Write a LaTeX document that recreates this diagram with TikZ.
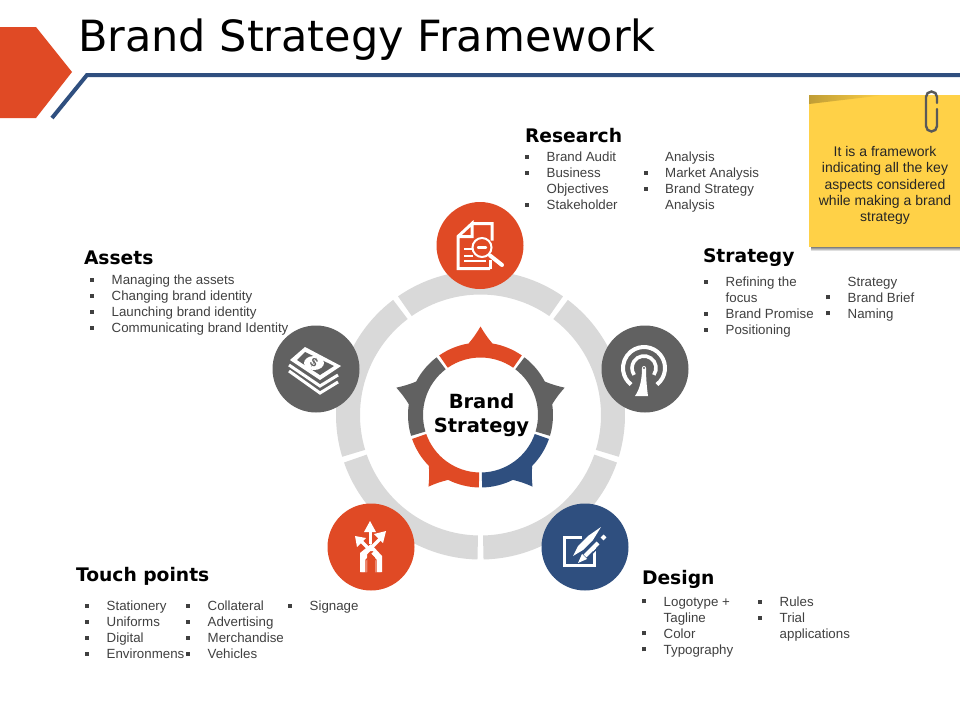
\documentclass[tikz,border=0pt]{standalone}
\usepackage{fontspec}
\setmainfont{Liberation Sans}
\newfontfamily\headfont{DejaVu Sans}
\usetikzlibrary{calc}
\definecolor{brandred}{HTML}{E04A25}
\definecolor{brandblue}{HTML}{2F4F7F}
\definecolor{brandgray}{HTML}{616161}
\definecolor{ringgray}{HTML}{D9D9D9}
\definecolor{notefill}{HTML}{FFD147}
\newcommand{\bl}{\makebox[21.7pt][l]{\rule[2.8pt]{4pt}{4pt}}}
\newcommand{\nb}{\hspace*{21.7pt}}
\tikzset{
 every node/.style={inner sep=0pt,outer sep=0pt},
 heading/.style={anchor=base west,font=\headfont\bfseries\fontsize{18.7}{24}\selectfont,text=black},
 bullets/.style={anchor=north west,align=left,font=\fontsize{13.3}{16}\selectfont,text=black!75},
 badge/.style={circle,minimum size=87pt},
 icon/.style={draw=white,line width=3pt,line join=miter},
}
\begin{document}
\begin{tikzpicture}[x=1pt,y=-1pt]
\useasboundingbox (0,0) rectangle (960,720);
\fill[white] (0,0) rectangle (960,720);
\coordinate (hub) at (480.5,415);
% header
\fill[brandred] (0,27) -- (36,27) -- (72,72) -- (36,118) -- (0,118) -- cycle;
\coordinate (rulestart) at (52,118);
\coordinate (ruleend) at (960,75);
\draw[brandblue,line width=4pt] (rulestart) -- (87,75) -- (ruleend);
\node[anchor=west,font=\headfont\fontsize{43}{50}\selectfont] (title) at (78,40) {Brand Strategy Framework};
% outer ring
\foreach \a in {54,-18,-90,-162,-234}
 \fill[ringgray] ($(hub)+({\a+1.2}:144.5 and -144.5)$) arc[start angle=-\a-1.2,end angle=-\a-70.8,radius=144.5]
 -- ($(hub)+({\a+70.8}:120.5 and -120.5)$) arc[start angle=-\a-70.8,end angle=-\a-1.2,radius=120.5] -- cycle;
% inner ring with tips
\foreach \a/\c in {54/brandred,-18/brandgray,-90/brandblue,-162/brandred,-234/brandgray}
 \fill[\c] ($(hub)+({\a+1.3}:72.5 and -72.5)$) arc[start angle=-\a-1.3,end angle=-\a-26.5,radius=72.5]
 .. controls ($(hub)+({\a+30.5}:77 and -77)$) and ($(hub)+({\a+33.8}:83 and -83)$) .. ($(hub)+({\a+36}:88.5 and -88.5)$)
 .. controls ($(hub)+({\a+38.2}:83 and -83)$) and ($(hub)+({\a+41.5}:77 and -77)$) .. ($(hub)+({\a+45.5}:72.5 and -72.5)$)
 arc[start angle=-\a-45.5,end angle=-\a-70.7,radius=72.5]
 -- ($(hub)+({\a+70.7}:57.5 and -57.5)$) arc[start angle=-\a-70.7,end angle=-\a-1.3,radius=57.5] -- cycle;
\node[align=center,font=\headfont\bfseries\fontsize{19.5}{24}\selectfont] (centre) at (481.5,415) {Brand\\Strategy};
% badges
\node[badge,fill=brandred] (research) at (480,245.5) {};
\node[badge,fill=brandgray] (strategy) at (645,369) {};
\node[badge,fill=brandblue] (design) at (585,547) {};
\node[badge,fill=brandred] (touch) at (371,547) {};
\node[badge,fill=brandgray] (assets) at (316,369) {};
% research icon
\begin{scope}[shift={(research.center)}]
\draw[icon] (-8,-22) -- (12,-22) -- (12,-5) (10,23) -- (-22,23) -- (-22,-9) -- (-8,-22) -- (-8,-9) -- (-22,-9);
\draw[icon] (10,23) -- (10,14);
\draw[white,line width=2pt] (-16,3) -- (-8,3) (-16,10) -- (-7,10) (-16,15.5) -- (6,15.5);
\draw[icon,fill=brandred,line width=2pt] (2,2) circle[radius=9.5];
\draw[white,line width=2.4pt,line cap=round] (-2,2) -- (6,2);
\draw[white,line width=4pt,line cap=round] (10,10) -- (22,19.5);
\end{scope}
% strategy icon
\begin{scope}[shift={(strategy.center)}]
\draw[white,line width=4pt] (-1,-1) ++(52:21) arc[start angle=52,end angle=-232,radius=21];
\draw[white,line width=3.6pt] (-1,-1) ++(35:12) arc[start angle=35,end angle=-215,radius=12];
\fill[brandgray] (-13,28) -- (-4,0) -- (2,0) -- (6,28) -- cycle;
\fill[white] (-10,27) .. controls (-5,20) and (-3,10) .. (-3,-1) arc[start angle=180,end angle=360,radius=2] .. controls (1,10) and (2,20) .. (3,27) -- cycle;
\fill[brandgray] (-1,-1) circle[radius=1.2];
\end{scope}
% design icon
\begin{scope}[shift={(design.center)}]
\draw[icon] (-3,-10) -- (-21,-10) -- (-21,18.5) -- (9,18.5) -- (9,0);
\fill[white] (16,-20) -- (8,-7) -- (-2,3) -- (-12,9) -- (-7,-1) -- (3,-11) -- cycle;
\draw[brandblue,line width=1.4pt] (3,10.5) -- (17,-3.5);
\draw[white,line width=4.2pt] (0,9) -- (13,-4);
\draw[white,line width=4pt] (17,-8) -- (20,-11);
\fill[white] (-7,16) -- (-3,7) -- (2,12) -- cycle;
\end{scope}
% touch icon
\begin{scope}[shift={(touch.center)}]
\draw[white,line width=3pt] (-1,-20) -- (-1,-3);
\fill[white] (-1,-26) -- (-7,-15) -- (5,-15) -- cycle;
\draw[white,line width=3.4pt] (-11,-7) -- (8,12) -- (8,25);
\fill[white] (-16,-11) -- (-14,0) -- (-5,-9) -- cycle;
\draw[brandred,line width=6pt] (12,-10) -- (-7,10);
\draw[white,line width=3.4pt] (12,-11) -- (-8,9) -- (-8,25);
\fill[white] (15,-16) -- (3,-13) -- (12,-4) -- cycle;
\fill[white] (-11,6) -- (-11,25) -- (-4,25) -- (-4,7) -- (-2,4) -- (2,4) -- (4,7) -- (4,25) -- (11,25) -- (11,9) -- (0,-3) -- cycle;
\draw[brandred,line width=1.2pt] (0,8) -- (-5,13) -- (-5,25) (0,8) -- (5,13) -- (5,25);
\end{scope}
% assets icon
\begin{scope}[shift={(assets.center)}]
\draw[white,line width=3pt] (-27,-4) -- (4,17) -- (22,6);
\draw[white,line width=3pt] (-27,2) -- (4,24) -- (22,13);
\fill[white] (-11,-22) -- (25,-3) -- (4,11) -- (-26,-9) -- cycle;
\fill[brandgray] (-11,-17) -- (18,-3) -- (4,6) -- (-19,-9) -- cycle;
\fill[white] (-2,-6) ellipse[x radius=10,y radius=7];
\node[font=\bfseries\fontsize{12}{12}\selectfont,text=brandgray,rotate=-30] (money) at (-2,-6) {\$};
\end{scope}
% note
\shade[top color=black!50,bottom color=white] (811,247) rectangle (960,251);
\fill[notefill] (809,95) rectangle (960,247);
\shade[left color=black!25!notefill,right color=notefill] (809,95) -- (885,95) -- (809,104) -- cycle;
\node[align=center,font=\fontsize{14}{16.4}\selectfont,text=black!85] (note) at (885,185.5) {It is a framework\\indicating all the key\\aspects considered\\while making a brand\\strategy};
\draw[black!65,line width=2.4pt,line cap=round] (937,103) -- (937,97) arc[start angle=0,end angle=-180,radius=5.5] -- (926,126) arc[start angle=180,end angle=0,radius=5.5] -- (937,109);
% texts
\node[heading] (researchhead) at (525,142) {Research};
\node[bullets] (researcha) at (525,152) {\bl Brand Audit\\\bl Business\\\nb Objectives\\\bl Stakeholder};
\node[bullets] (researchb) at (643.5,152) {\nb Analysis\\\bl Market Analysis\\\bl Brand Strategy\\\nb Analysis};
\node[heading] (strategyhead) at (703,262) {Strategy};
\node[bullets] (strategya) at (704,277) {\bl Refining the\\\nb focus\\\bl Brand Promise\\\bl Positioning};
\node[bullets] (strategyb) at (826,277) {\nb Strategy\\\bl Brand Brief\\\bl Naming};
\node[heading] (assetshead) at (84,264) {Assets};
\node[bullets] (assetsa) at (90,275) {\bl Managing the assets\\\bl Changing brand identity\\\bl Launching brand identity\\\bl Communicating brand Identity};
\node[heading] (touchhead) at (76,581) {Touch points};
\node[bullets] (toucha) at (85,601) {\bl Stationery\\\bl Uniforms\\\bl Digital\\\bl Environmens};
\node[bullets] (touchb) at (186,601) {\bl Collateral\\\bl Advertising\\\bl Merchandise\\\bl Vehicles};
\node[bullets] (touchc) at (288,601) {\bl Signage};
\node[heading] (designhead) at (642,584) {Design};
\node[bullets] (designa) at (642,597) {\bl Logotype +\\\nb Tagline\\\bl Color\\\bl Typography};
\node[bullets] (designb) at (758,597) {\bl Rules\\\bl Trial\\\nb applications};
\end{tikzpicture}
\end{document}
